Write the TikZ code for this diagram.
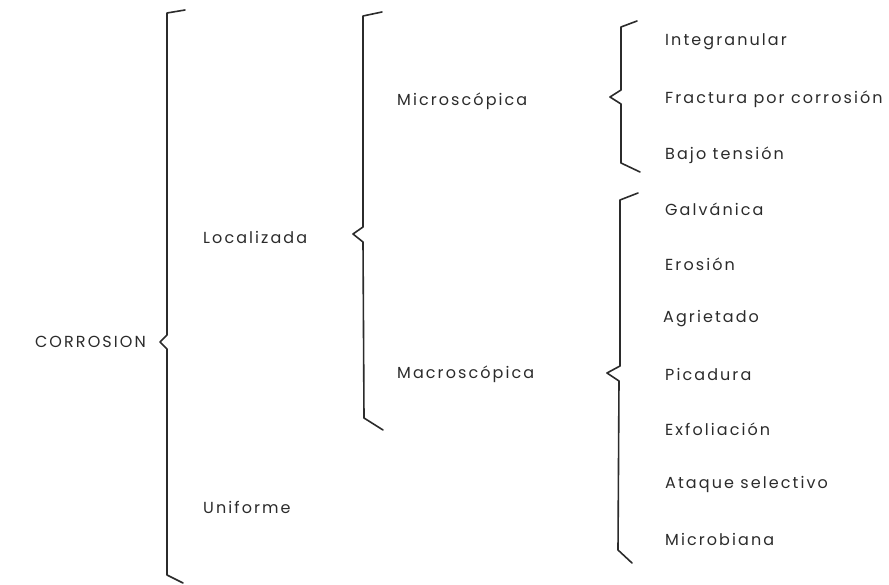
\documentclass[tikz,border=0pt]{standalone}
\usepackage{fontspec}
\setmainfont{Poppins}[LetterSpace=13]
\definecolor{ink}{HTML}{2B2B2B}
\begin{document}
\begin{tikzpicture}[x=1pt,y=-1pt,
  lbl/.style={anchor=west,inner sep=0pt,text=ink,font=\fontsize{16}{18}\selectfont},
  brace/.style={draw=ink,line width=1.6pt,line join=round,line cap=round}]
\useasboundingbox (0,0) rectangle (889,585);
% labels
\node[lbl,anchor=east] (corr) at (146,342) {CORROSION};
\node[lbl] (loc) at (203,237) {Localizada};
\node[lbl] (uni) at (203,507) {Uniforme};
\node[lbl] (mic) at (397,101) {Microscópica};
\node[lbl] (mac) at (397,374) {Macroscópica};
\node[lbl] (i1) at (665,42) {Integranular};
\node[lbl] (i2) at (665,99) {Fractura por corrosión};
\node[lbl] (i3) at (665,155) {Bajo tensión};
\node[lbl] (g1) at (665,209) {Galvánica};
\node[lbl] (g2) at (665,264) {Erosión};
\node[lbl] (g3) at (663,319) {Agrietado};
\node[lbl] (g4) at (665,374) {Picadura};
\node[lbl] (g5) at (665,429) {Exfoliación};
\node[lbl] (g6) at (665,484) {Ataque selectivo};
\node[lbl] (g7) at (665,539) {Microbiana};
% braces
\path[brace] (185,10) -- (167,13) -- (167,335) -- (160,342) -- (167,349) -- (167,575) -- (183,583);
\path[brace] (382,12) -- (363,16) -- (363,227) -- (353,234) -- (363,242) -- (364,418) -- (383,430);
\path[brace] (637,21) -- (621,27) -- (621,90) -- (610,97) -- (621,104) -- (621,163) -- (640,172);
\path[brace] (638,193) -- (620,200) -- (620,366) -- (607,373) -- (619,381) -- (618,550) -- (632,563);
\end{tikzpicture}
\end{document}
